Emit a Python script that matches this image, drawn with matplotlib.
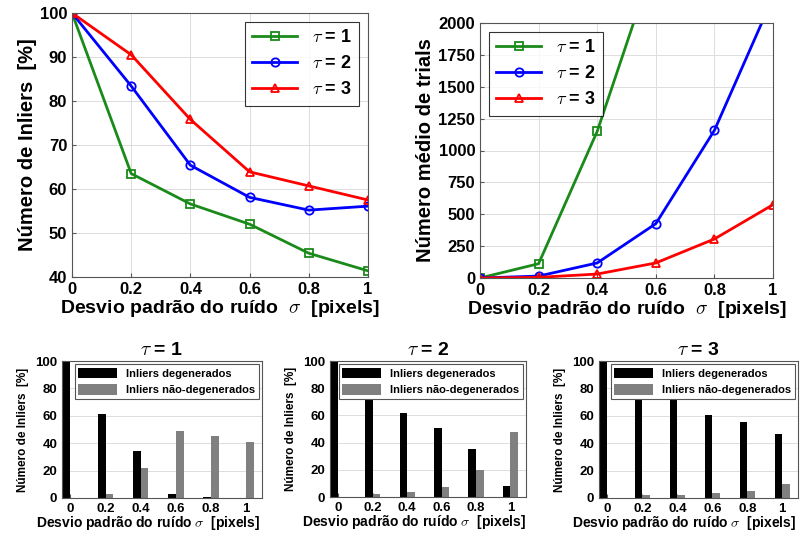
import numpy as np
import matplotlib
matplotlib.use("Agg")
import matplotlib.pyplot as plt

plt.rcParams['font.family'] = ['Liberation Sans', 'DejaVu Sans']
plt.rcParams['font.weight'] = 'bold'
plt.rcParams['axes.labelweight'] = 'bold'
plt.rcParams['axes.titleweight'] = 'bold'
plt.rcParams['mathtext.fontset'] = 'cm'

sigma = [0, 0.2, 0.4, 0.6, 0.8, 1.0]
sigma_labels = ['0', '0.2', '0.4', '0.6', '0.8', '1']

# percentage of inliers per tau
inliers_t1 = [100, 63.5, 56.6, 52.0, 45.4, 41.4]
inliers_t2 = [100, 83.4, 65.4, 58.1, 55.2, 56.1]
inliers_t3 = [100, 90.5, 75.8, 63.9, 60.7, 57.5]

# mean number of trials per tau (values above 2000 run off the axes)
trials_t1 = [0, 112, 1150, 2520, 5000, 9000]
trials_t2 = [0, 15, 118, 426, 1158, 2200]
trials_t3 = [0, 5, 31, 118, 306, 575]

# degenerate / non-degenerate inliers [%]
degen = {1: [100, 61, 34.5, 3, 0.5, 0],
         2: [100, 81.4, 61.5, 51, 35.5, 8],
         3: [100, 88.5, 73.8, 60.3, 55.5, 47]}
nondegen = {1: [0, 3, 22, 49, 45, 41],
            2: [0, 2, 4, 7, 19.5, 48],
            3: [0, 2, 2, 3.5, 5, 10.5]}

series = [(r'$\tau$ = 1', 's', '#1a8a1a'),
          (r'$\tau$ = 2', 'o', '#0000ff'),
          (r'$\tau$ = 3', '^', '#ff0000')]

xlabel = r'Desvio padrão do ruído  $\sigma$  [pixels]'

fig = plt.figure(figsize=(8.06, 5.36), dpi=100)
W, H = 806, 536


def add_ax(x0, y0, x1, y1):
    return fig.add_axes([x0 / W, 1 - y1 / H, (x1 - x0) / W, (y1 - y0) / H])


def style(ax):
    for s in ax.spines.values():
        s.set_color('#555555')
        s.set_linewidth(0.8)
    ax.grid(True, color='#dddddd', linewidth=0.7)
    ax.set_axisbelow(True)
    ax.tick_params(direction='in', length=3, color='#555555')


# top-left
ax = add_ax(72, 13, 368, 277)
for vals, (lab, mk, col) in zip([inliers_t1, inliers_t2, inliers_t3], series):
    ax.plot(sigma, vals, marker=mk, color=col, lw=2, ms=6, mfc='none', mew=1.3, label=lab)
ax.set_xlim(0, 1)
ax.set_ylim(40, 100)
ax.set_xticks(sigma)
ax.set_xticklabels(sigma_labels)
ax.set_yticks(range(40, 101, 10))
ax.tick_params(labelsize=12)
ax.set_xlabel(xlabel, fontsize=14, labelpad=1)
ax.set_ylabel('Número de Inliers  [%]', fontsize=14.5, labelpad=2)
style(ax)
leg = ax.legend(loc='upper right', fontsize=13, fancybox=False, edgecolor='black',
                handlelength=2.5, borderpad=0.4)
leg.get_frame().set_linewidth(0.8)

# top-right
ax = add_ax(480, 23, 773, 278)
for vals, (lab, mk, col) in zip([trials_t1, trials_t2, trials_t3], series):
    ax.plot(sigma, vals, marker=mk, color=col, lw=2, ms=6, mfc='none', mew=1.3, label=lab)
ax.set_xlim(0, 1)
ax.set_ylim(0, 2000)
ax.set_xticks(sigma)
ax.set_xticklabels(sigma_labels)
ax.set_yticks(range(0, 2001, 250))
ax.tick_params(labelsize=12)
ax.set_xlabel(xlabel, fontsize=14, labelpad=1)
ax.set_ylabel('Número médio de trials', fontsize=14.5, labelpad=2)
style(ax)
leg = ax.legend(loc='upper left', fontsize=13, fancybox=False, edgecolor='black',
                handlelength=2.5, borderpad=0.4)
leg.get_frame().set_linewidth(0.8)

# bottom bar charts
boxes = [(62, 361, 262, 498), (330, 361, 526, 497), (599, 361, 798, 498)]
pos = np.arange(len(sigma))
bw = 0.22
for t, (x0, y0, x1, y1) in zip([1, 2, 3], boxes):
    ax = add_ax(x0, y0, x1, y1)
    ax.bar(pos - bw / 2, degen[t], bw, color='black', label='Inliers degenerados')
    ax.bar(pos + bw / 2, nondegen[t], bw, color='#808080', label='Inliers não-degenerados')
    ax.set_xlim(-0.24, 5.45)
    ax.set_ylim(0, 100)
    ax.set_xticks(pos)
    ax.set_xticklabels(sigma_labels)
    ax.set_yticks(range(0, 101, 20))
    ax.tick_params(labelsize=9.5)
    ax.set_xlabel(r'Desvio padrão do ruído $\sigma$  [pixels]', fontsize=10)
    ax.xaxis.set_label_coords(0.43, -0.115)
    ax.set_ylabel('Número de Inliers  [%]', fontsize=8.5)
    ax.set_title(r'$\tau$ = %d' % t, fontsize=14, pad=4)
    style(ax)
    ax.grid(axis='x', visible=False)
    leg = ax.legend(loc='upper right', fontsize=8, fancybox=False, edgecolor='#555555',
                    framealpha=1, handlelength=3.5, handleheight=1.1, borderpad=0.3,
                    borderaxespad=0.3)
    leg.get_frame().set_linewidth(0.8)

fig.savefig('out.png', dpi=100)
